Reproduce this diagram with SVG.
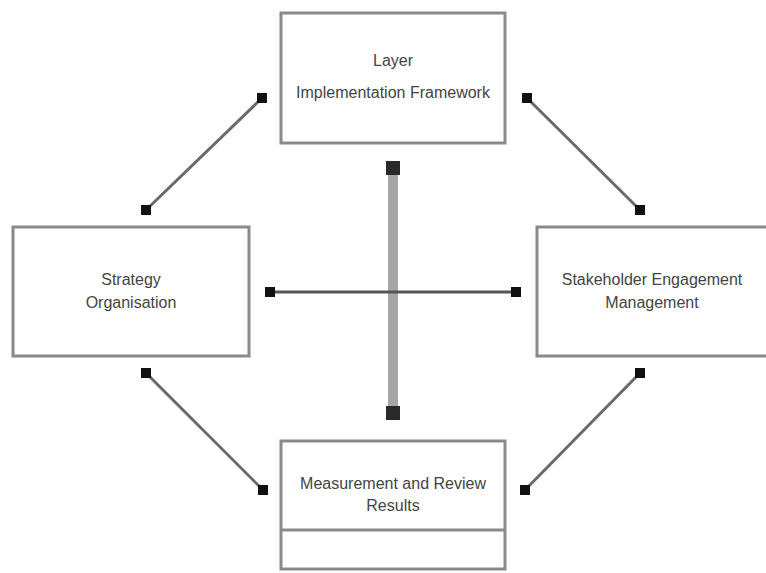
<svg xmlns="http://www.w3.org/2000/svg" width="766" height="573" viewBox="0 0 766 573">
  <style>
    .box { fill: #ffffff; stroke: #8a8a8a; stroke-width: 3; }
    .lbl { font-family: "Liberation Sans", Arial, sans-serif; font-size: 16px; fill: #444444; text-anchor: middle; }
    .diag { stroke: #6a6a6a; stroke-width: 3; fill: none; marker-start: url(#sq); marker-end: url(#sq); }
    .hor { stroke: #555555; stroke-width: 3; fill: none; marker-start: url(#sq); marker-end: url(#sq); }
    .ver { stroke: #a6a6a6; stroke-width: 10; fill: none; marker-start: url(#sqBig); marker-end: url(#sqBig); }
    .div { stroke: #8a8a8a; stroke-width: 3; }
  </style>
  <defs>
    <marker id="sq" markerUnits="userSpaceOnUse" markerWidth="12" markerHeight="12" refX="6" refY="6" orient="0">
      <rect x="1" y="1" width="10" height="10" fill="#111111"/>
    </marker>
    <marker id="sqBig" markerUnits="userSpaceOnUse" markerWidth="16" markerHeight="16" refX="8" refY="8" orient="0">
      <rect x="1" y="1" width="14" height="14" fill="#2a2a2a"/>
    </marker>
  </defs>
  <rect width="766" height="573" fill="#ffffff"/>

  <g id="connectors">
    <line class="ver" x1="393" y1="168" x2="393" y2="413"/>
    <line class="hor" x1="270" y1="292" x2="516" y2="292"/>
    <line class="diag" x1="262" y1="98" x2="146" y2="210"/>
    <line class="diag" x1="527" y1="98" x2="640" y2="210"/>
    <line class="diag" x1="146" y1="373" x2="263" y2="490"/>
    <line class="diag" x1="640" y1="373" x2="525" y2="490"/>
  </g>

  <g id="node-top">
    <rect class="box" x="281" y="13" width="224" height="130"/>
    <text class="lbl" x="393" y="66">Layer</text>
    <text class="lbl" x="393" y="98">Implementation Framework</text>
  </g>

  <g id="node-left">
    <rect class="box" x="13" y="227" width="236" height="129"/>
    <text class="lbl" x="131" y="285">Strategy</text>
    <text class="lbl" x="131" y="308">Organisation</text>
  </g>

  <g id="node-right">
    <rect class="box" x="537" y="227" width="236" height="129"/>
    <text class="lbl" x="652" y="285">Stakeholder Engagement</text>
    <text class="lbl" x="652" y="308">Management</text>
  </g>

  <g id="node-bottom">
    <rect class="box" x="281" y="441" width="224" height="128"/>
    <text class="lbl" x="393" y="489">Measurement and Review</text>
    <text class="lbl" x="393" y="511">Results</text>
    <line class="div" x1="281" y1="530" x2="505" y2="530"/>
  </g>
</svg>
